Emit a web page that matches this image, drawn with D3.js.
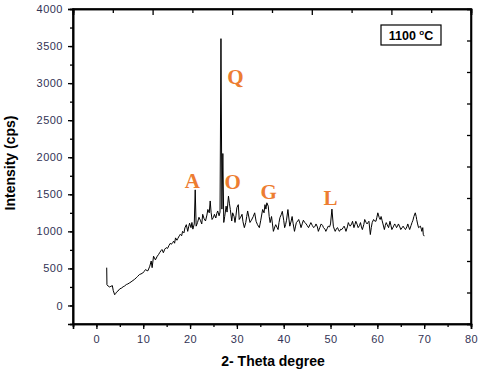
<!DOCTYPE html>
<html>
<head>
<meta charset="utf-8">
<script src="https://cdn.jsdelivr.net/npm/d3@7"></script>
<style>
  body { margin: 0; background: #fff; }
  svg { display: block; font-family: "Liberation Sans", Arial, sans-serif; }
</style>
</head>
<body>
<div id="chart"></div>
<script>
// XRD pattern: [2-theta, cps]
var pattern = [
  [2.2, 510], [2.25, 280], [2.5, 262], [2.8, 250], [3.1, 258], [3.4, 268], [3.6, 200], [3.9, 145],
  [4.1, 160], [4.3, 180], [4.6, 195], [5.0, 225], [5.3, 232], [5.7, 252], [6.0, 262], [6.4, 283],
  [6.7, 290], [7.1, 306], [7.4, 318], [7.8, 337], [8.1, 350], [8.5, 373], [8.8, 392], [9.2, 418],
  [9.5, 425], [9.9, 438], [10.2, 460], [10.5, 485], [10.8, 470], [11.0, 468], [11.4, 530], [11.7, 600],
  [11.9, 510], [12.2, 665], [12.4, 640], [12.6, 615], [13.0, 665], [13.3, 690], [13.5, 712], [13.8, 740],
  [14.0, 755], [14.3, 712], [14.6, 760], [14.9, 780], [15.2, 770], [15.5, 810], [15.8, 840], [16.0, 825],
  [16.3, 850], [16.5, 868], [16.7, 840], [16.9, 912], [17.2, 880], [17.4, 905], [17.7, 940], [17.9, 960],
  [18.2, 940], [18.4, 1000], [18.7, 980], [18.9, 1047], [19.2, 1090], [19.5, 1000], [19.7, 1060], [19.9, 1110],
  [20.2, 1050], [20.4, 1120], [20.6, 1030], [20.9, 1100], [21.1, 1560], [21.3, 1070], [21.6, 1120], [21.9, 1190],
  [22.2, 1150], [22.5, 1100], [22.7, 1230], [23.0, 1170], [23.3, 1140], [23.6, 1220], [23.8, 1295], [24.1, 1250],
  [24.3, 1410], [24.5, 1250], [24.7, 1160], [25.0, 1190], [25.2, 1230], [25.5, 1180], [25.7, 1240], [25.9, 1275],
  [26.2, 1210], [26.4, 1260], [26.6, 3600], [26.8, 1300], [27.0, 2050], [27.2, 1120], [27.4, 1200], [27.7, 1340],
  [27.9, 1260], [28.2, 1475], [28.4, 1380], [28.6, 1295], [28.9, 1140], [29.1, 1250], [29.4, 1200], [29.6, 1120],
  [29.8, 1210], [30.0, 1320], [30.3, 1360], [30.5, 1160], [30.8, 1190], [31.1, 1230], [31.3, 1130], [31.6, 1050],
  [31.9, 1120], [32.1, 1200], [32.3, 1275], [32.6, 1180], [32.8, 1120], [33.1, 1150], [33.5, 1200], [33.8, 1250],
  [34.1, 1136], [34.4, 1090], [34.8, 1050], [35.1, 1150], [35.5, 1295], [35.8, 1250], [36.0, 1360], [36.2, 1300],
  [36.4, 1385], [36.7, 1340], [36.9, 1200], [37.1, 1118], [37.4, 1200], [37.6, 1100], [37.8, 1000], [38.1, 1060],
  [38.3, 1090], [38.6, 1050], [38.8, 1024], [39.0, 1120], [39.2, 1186], [39.5, 1230], [39.7, 1270], [40.0, 1150],
  [40.2, 1050], [40.4, 1090], [40.6, 1150], [40.9, 1294], [41.1, 1180], [41.3, 1070], [41.6, 1140], [41.8, 1200],
  [42.0, 1110], [42.3, 1000], [42.5, 1060], [42.7, 1118], [43.0, 1140], [43.2, 1160], [43.5, 1100], [43.7, 1050],
  [44.0, 1110], [44.2, 1150], [44.5, 1120], [44.8, 1100], [45.0, 1080], [45.3, 1050], [45.6, 1090], [45.8, 1118],
  [46.1, 1080], [46.4, 1050], [46.7, 1070], [46.9, 1100], [47.2, 1060], [47.4, 1000], [47.7, 1050], [48.0, 1100],
  [48.3, 1080], [48.5, 1050], [48.8, 1030], [49.0, 1000], [49.3, 1040], [49.5, 1070], [49.8, 1060], [50.0, 1100],
  [50.3, 1300], [50.6, 1070], [50.8, 1030], [51.0, 1000], [51.3, 1040], [51.5, 1050], [51.7, 1020], [51.9, 1000],
  [52.2, 1030], [52.4, 1024], [52.7, 1050], [52.9, 1070], [53.1, 1040], [53.3, 1000], [53.6, 1060], [53.8, 1118],
  [54.0, 1090], [54.2, 1070], [54.5, 1100], [54.7, 1136], [55.0, 1050], [55.2, 1090], [55.4, 1136], [55.7, 1090],
  [55.9, 1050], [56.2, 1080], [56.4, 1118], [56.6, 1060], [56.8, 1024], [57.1, 1090], [57.3, 1160], [57.6, 1120],
  [57.8, 1100], [58.0, 1120], [58.2, 1136], [58.5, 957], [58.7, 1050], [58.9, 1118], [59.2, 1160], [59.4, 1140],
  [59.7, 1136], [59.9, 1190], [60.1, 1250], [60.4, 1186], [60.6, 1160], [60.8, 1200], [61.0, 1150], [61.2, 1100],
  [61.5, 1024], [61.7, 1080], [61.9, 1118], [62.1, 1090], [62.4, 1050], [62.7, 1136], [62.9, 1080], [63.1, 1024],
  [63.4, 1060], [63.7, 1100], [63.9, 1080], [64.1, 1050], [64.3, 1070], [64.5, 1100], [64.8, 1060], [65.0, 1024],
  [65.3, 1050], [65.5, 1070], [65.8, 1040], [66.0, 1024], [66.3, 1060], [66.5, 1100], [66.7, 1060], [66.9, 1024],
  [67.2, 1080], [67.4, 1118], [67.6, 1150], [67.8, 1200], [68.1, 1250], [68.3, 1200], [68.4, 1160], [68.6, 1100],
  [68.8, 1050], [69.0, 1060], [69.2, 1070], [69.4, 1030], [69.5, 1000], [69.7, 1050], [69.8, 960], [70.0, 935]
];

// phase labels: letter, 2-theta of centre, cps of baseline
var phaseLetters = ['A', 'Q', 'O', 'G', 'L'];
var phaseX = [20.5, 29.7, 29.1, 36.8, 50.0];
var phaseY = [1590, 2990, 1577, 1430, 1350];

var xTicks = [0, 10, 20, 30, 40, 50, 60, 70, 80];
var yTicks = [0, 500, 1000, 1500, 2000, 2500, 3000, 3500, 4000];
var legendText = '1100 ';

var width = 480, height = 371;
var margin = {top: 9, right: 9, bottom: 47, left: 73};
var plotW = width - margin.left - margin.right;
var plotH = height - margin.top - margin.bottom;

var svg = d3.select('#chart').append('svg')
    .attr('width', width)
    .attr('height', height);

var g = svg.append('g')
    .attr('transform', 'translate(' + margin.left + ',' + margin.top + ')');

var x = d3.scaleLinear().domain([-5, 80]).range([0, plotW]);
var y = d3.scaleLinear().domain([-250, 4000]).range([plotH, 0]);

var labelColor = '#333355';
var fmt = d3.format('d');

//bottom axis, minor then major
g.append('g')
    .attr('transform', 'translate(0,' + plotH + ')')
    .call(d3.axisBottom(x).tickValues(d3.range(-5, 81, 5)).tickSize(3).tickFormat(''));
g.append('g')
    .attr('class', 'xaxis')
    .attr('transform', 'translate(0,' + plotH + ')')
    .call(d3.axisBottom(x).tickValues(xTicks).tickSize(5).tickPadding(6).tickFormat(fmt));

//left axis
g.append('g')
    .call(d3.axisLeft(y).tickValues(d3.range(-250, 4001, 250)).tickSize(3).tickFormat(''));
g.append('g')
    .attr('class', 'yaxis')
    .call(d3.axisLeft(y).tickValues(yTicks).tickSize(5).tickPadding(5).tickFormat(fmt));

//top and right mirror axes (their own spacing, ticks pointing in)
var topScale = d3.scaleLinear().domain([0, 10]).range([0, plotW]);
var rightScale = d3.scaleLinear().domain([0, 10]).range([plotH, 0]);
g.append('g')
    .call(d3.axisTop(topScale).tickValues(d3.range(1, 10, 2)).tickSize(-4).tickFormat(''));
g.append('g')
    .call(d3.axisTop(topScale).tickValues(d3.range(0, 11, 2)).tickSize(-6).tickFormat(''));
g.append('g')
    .attr('transform', 'translate(' + plotW + ',0)')
    .call(d3.axisRight(rightScale).ticks(10).tickSize(-4).tickFormat(''));

g.selectAll('.domain').attr('stroke', '#000').attr('stroke-width', 1.6);
g.selectAll('.tick line').attr('stroke', '#000').attr('stroke-width', 1.3);
g.selectAll('.xaxis text, .yaxis text')
    .attr('fill', labelColor)
    .style('font-size', '11px')
    .style('letter-spacing', '0.5px');

//frame
g.append('rect')
    .attr('width', plotW)
    .attr('height', plotH)
    .attr('fill', 'none')
    .attr('stroke', '#000')
    .attr('stroke-width', 1.6);

//pattern
var line = d3.line()
    .x(function(d) { return x(d[0]); })
    .y(function(d) { return y(d[1]); });

g.append('path')
    .datum(pattern)
    .attr('d', line)
    .attr('fill', 'none')
    .attr('stroke', '#000')
    .attr('stroke-width', 1)
    .attr('stroke-linejoin', 'round');

//phase letters
g.selectAll('text.phase')
    .data(phaseLetters)
    .enter()
    .append('text')
    .attr('class', 'phase')
    .attr('x', function(d, i) { return x(phaseX[i]); })
    .attr('y', function(d, i) { return y(phaseY[i]); })
    .attr('text-anchor', 'middle')
    .attr('fill', '#ED7D31')
    .style('font-family', '"Liberation Serif", "Times New Roman", serif')
    .style('font-weight', 'bold')
    .style('font-size', '21px')
    .text(function(d) { return d; });

//legend box
var legend = g.append('g')
    .attr('transform', 'translate(' + (381 - margin.left) + ',' + (25 - margin.top) + ')');
legend.append('rect')
    .attr('width', 60)
    .attr('height', 20)
    .attr('fill', '#fff')
    .attr('stroke', '#000')
    .attr('stroke-width', 1.2);
var lt = legend.append('text')
    .attr('x', 30)
    .attr('y', 15)
    .attr('text-anchor', 'middle')
    .style('font-weight', 'bold')
    .style('font-size', '12.5px');
lt.append('tspan').text(legendText);
lt.append('tspan').attr('dy', -5).style('font-size', '8px').text('o');
lt.append('tspan').attr('dy', 5).text('C');

//axis titles
svg.append('text')
    .attr('x', 273)
    .attr('y', 366)
    .attr('text-anchor', 'middle')
    .style('font-weight', 'bold')
    .style('font-size', '14px')
    .text('2- Theta degree');

svg.append('text')
    .attr('transform', 'translate(15,163) rotate(-90)')
    .attr('text-anchor', 'middle')
    .style('font-weight', 'bold')
    .style('font-size', '14px')
    .text('Intensity (cps)');
</script>
</body>
</html>
